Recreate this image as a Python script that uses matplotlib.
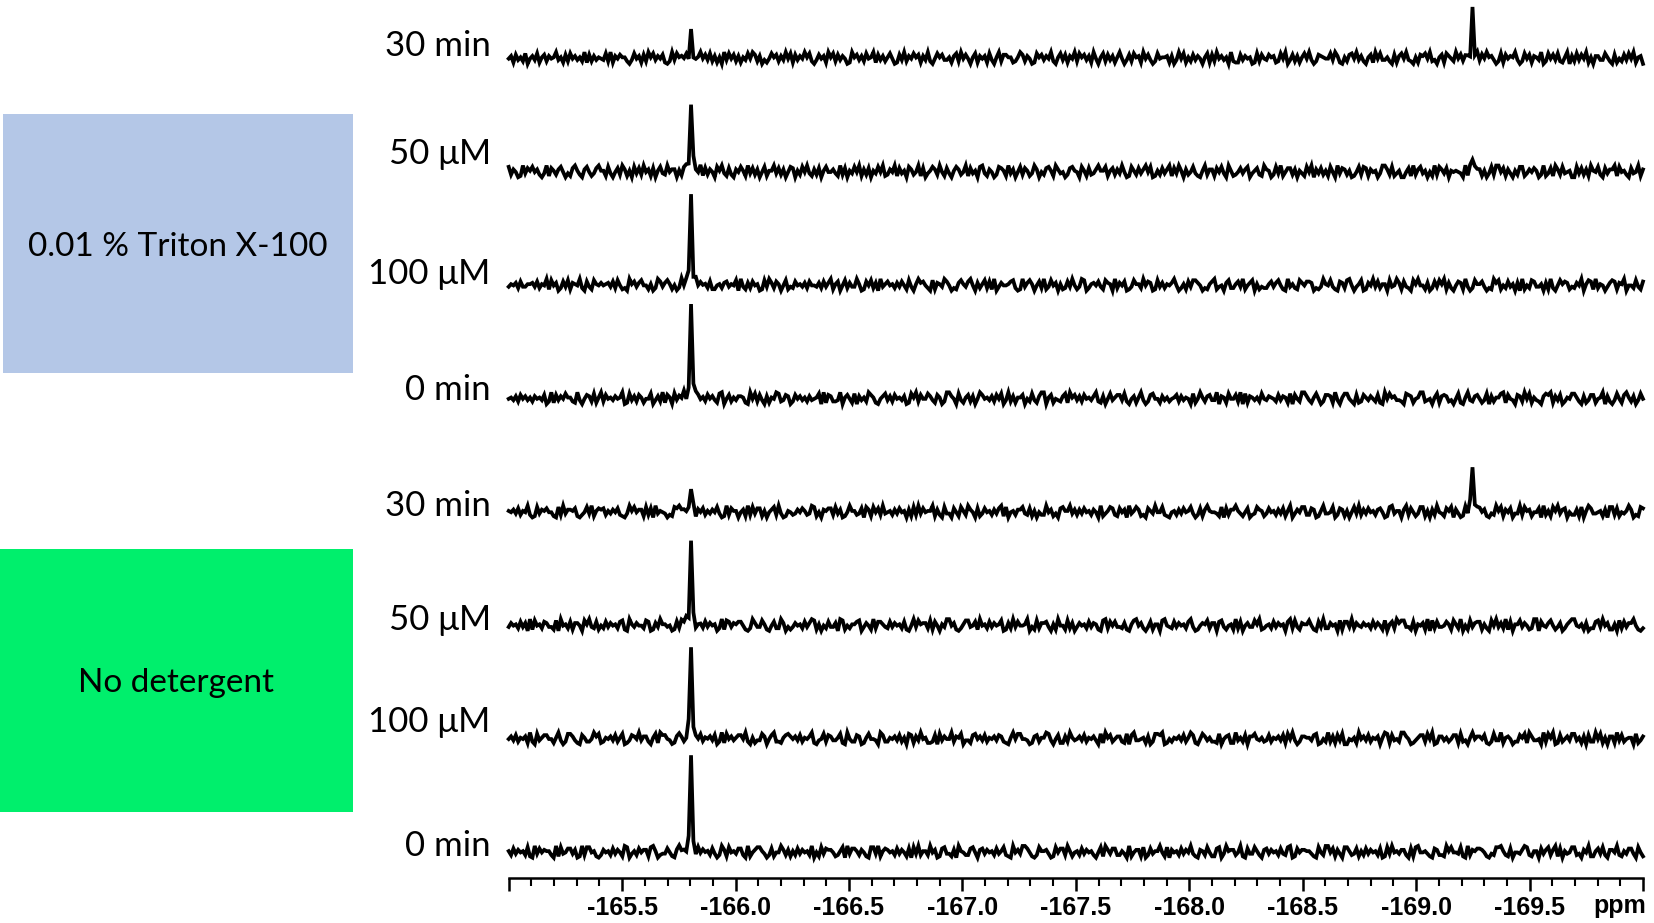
import numpy as np
import matplotlib
matplotlib.use("Agg")
import matplotlib.pyplot as plt
from matplotlib.patches import Rectangle
from matplotlib.ticker import FixedLocator, MultipleLocator

# ------------------------------------------------------------------ data
ppm_left, ppm_right = -165.0, -170.0
trace_labels = ["30 min", "50 \u03bcM", "100 \u03bcM", "0 min",
                "30 min", "50 \u03bcM", "100 \u03bcM", "0 min"]
peak_ppm = [-165.8, -169.25]
# peak heights (display units) of the two signals, one row per trace (top to bottom)
peak_heights = [
    [27, 53],
    [70, 15],
    [90, 0],
    [100, 0],
    [27, 45],
    [85, 0],
    [97, 0],
    [92, 0],
]
group_labels = ["0.01 % Triton X-100", "No detergent"]
group_colors = ["#B4C7E7", "#00EF6C"]
major_ticks = [-165.0, -165.5, -166.0, -166.5, -167.0, -167.5,
               -168.0, -168.5, -169.0, -169.5, -170.0]
tick_labels = ["", "-165.5", "-166.0", "-166.5", "-167.0", "-167.5",
               "-168.0", "-168.5", "-169.0", "-169.5", ""]
unit_label = "ppm"

# baseline noise of each trace, hand-estimated levels 0..9 (4.5 = baseline)
noise_1 = """
46173528 04638157 26459351 72846352 91726354
38291647 55203846 17295836 47102938 56471623
59473826 15093847 26153849 72603148 57263948
17364958 20374619 58273640 19573628 45917362
58401739 26485716 39204857 33516829 47405816
46183059 27755125 97264018 57364920 58371649
28573619 40582736 15940372 85619473 02845561
60394815 27364058 17294635 09211736 45018274
37561284 90372615 84930276 54483961 05278493
62057194 83352071 68493205 17684923 05718642
94726503 18274956 30281746 59302847 16539028
47382159 06283749 15066338 52071427 38491560
"""
noise_2 = """
82640193 75846203 91752684 03179520 68413795
51830472 96150837 29461705 83294660 51783294
39172640 85931720 64851937 26048155 93726048
70528493 16270584 46319270 53849162 70538491
26491735 08624917 03586294 17305862 49173508
93164028 75193604 82751396 04278519 63402785
40851723 69558157 26394018 52736948 01527369
17395062 48310592 66174830 95124736 80357219
65028391 47726053 18490637 25184093 76250148
28716450 39962813 50047192 68350419 28637054
54309182 76615038 29947163 05288136 47502913
71962834 50083726 19548207 36691845 20734916
"""
noise_3 = """
35462733 55637254 91846027 38165492 07318546
45637284 12095736 84415029 73685140 29376518
36452711 45267354 80931627 45018396 27504813
27453627 44362736 91570482 63395017 48260935
74526374 18305967 42081653 97402168 53794062
58271903 64457820 19368504 72913846 05127394
13980256 47318650 92647013 85529476 01836254
69402517 38864021 57913406 82257391 46805132
25736841 09352186 47760213 95483107 62894035
80164937 25508349 61732085 94416027 38591620
47619302 85573021 96814273 50609142 87335061
92048576 13264905 87192540 36871659 04428317
"""
noise_4 = """
45362746 35264537 02917364 85521930 47628159
27453645 90183627 51448036 29175083 64912057
63527463 18904725 36651094 82730615 49823760
27463526 34580917 62239057 41806352 97510468
36274536 01859274 48631750 29964083 15726049
74536274 80392615 57042831 69905714 32681957
36274536 92160483 57738204 61593027 84416352
45726354 08149526 73390651 84472908 16535284
36542736 51807429 96315840 27761930 58842071
27536427 10948563 32087614 59923405 81676230
48105932 67413806 25589174 30762948 15320687
91637025 48852061 37714590 62038417 95260384
"""
noise_5 = """
54637254 92018365 74410829 36657102 48391576
72536472 10395846 61827093 54302187 96645180
64725364 83019275 50461928 37715046 82930154
23647523 98140657 72836014 95523708 61847293
45263745 06182937 45591620 83307418 52964071
37452637 91804526 68327150 42294613 07855936
26374526 40913587 21746093 58612075 39448210
45263745 83027169 54431807 26695314 70238651
37452637 15903648 82276015 93348027 61504839
26374526 74018935 50692741 38815062 94317580
63018294 57746103 29581647 03392856 14470925
18593670 42261805 97334516 08827143 59602187
"""
noise_6 = """
36452736 09184527 63318094 52716640 85932714
27364527 81095364 42870163 95534017 28691450
45273645 02918736 57741029 63385104 72296031
36452736 98150427 33609814 25578036 41927753
27364527 10493856 62817405 39946102 58834719
45273645 80162937 44590318 26673051 94418260
36452736 51089274 73326105 89462037 15508943
27364527 93014658 26607831 45192704 63385912
45273645 07928316 55841073 92264508 17739264
36452736 41805729 68833170 54619082 73347518
52904183 67715208 49362917 05583641 29907436
84136025 79943516 02278394 61150827 36694102
"""
noise_7 = """
46372546 19208357 74415930 28863107 52249681
25463725 80137649 36620581 97743016 85129034
37254637 02918463 57749205 13386047 92215786
46372546 91034827 63358109 42276015 84430972
25463725 08716394 51127083 64492658 03317846
37254637 62105948 84430167 25598304 71162953
46372546 30819572 46621807 93345160 28879014
25463725 97104863 52218046 71193527 06684352
37254637 18493026 65537801 42926173 80043519
46372546 05981734 29964013 57728490 16635247
71823059 46647102 83391564 02275819 63340928
59017246 38835160 72294815 06619372 45508136
"""
noise_8 = """
52736452 81093746 55209183 47736019 28845102
64527364 19803527 46618950 23374106 95527830
73645273 02961845 37720914 68853027 14496261
52736452 90418376 64125809 37752641 08839157
64527364 17083925 52946017 83316095 42278406
73645273 58210946 39974102 85563018 47729514
52736452 04819637 72253091 46618027 35594180
64527364 93106528 41178039 56624910 73385206
73645273 28901746 65531084 29947163 08852371
52736452 70183945 36620718 94453107 62219584
43810926 57764103 28895217 04436982 15507368
26917053 48823064 91157382 06649215 37730841
"""
noise_levels = [noise_1, noise_2, noise_3, noise_4,
                noise_5, noise_6, noise_7, noise_8]

# ------------------------------------------------------------------ layout
W, H = 1654, 923
fig = plt.figure(figsize=(W / 100, H / 100), dpi=100)
fig.patch.set_facecolor("white")

ax_left_px, ax_right_px = 508.7, 1643.0
ax_bottom_px = 878.0
ax = fig.add_axes([ax_left_px / W, 1 - ax_bottom_px / H,
                   (ax_right_px - ax_left_px) / W, ax_bottom_px / H])
ax.set_xlim(ppm_left, ppm_right)
ax.set_ylim(0, ax_bottom_px)

first_base_px, spacing_px = 58.0, 113.4
noise_scale = 1.3
peak_width = 0.0042

for i, (lev, heights) in enumerate(zip(noise_levels, peak_heights)):
    vals = np.array([int(c) for c in lev if c.isdigit()], dtype=float)
    x = np.linspace(ppm_left, ppm_right, len(vals))
    base = ax_bottom_px - (first_base_px + spacing_px * i)
    y = base + (vals - 4.5) * noise_scale
    for p, h in zip(peak_ppm, heights):
        if h <= 0:
            continue
        k = int(np.argmin(np.abs(x - p)))
        y = y + h / (1 + ((x - x[k]) / peak_width) ** 2)
    ax.plot(x, y, color="black", lw=2.7, clip_on=False, solid_joinstyle="miter")

for s in ("top", "left", "right"):
    ax.spines[s].set_visible(False)
ax.spines["bottom"].set_linewidth(1.8)
ax.set_yticks([])
ax.xaxis.set_major_locator(FixedLocator(major_ticks))
ax.set_xticklabels(tick_labels)
ax.xaxis.set_minor_locator(MultipleLocator(0.1))
ax.tick_params(axis="x", which="major", direction="out", length=9, width=1.8,
               pad=4, labelsize=18)
ax.tick_params(axis="x", which="minor", direction="out", length=5.5, width=1.5)
for t in ax.get_xticklabels():
    t.set_fontfamily("Liberation Sans")
    t.set_fontweight("bold")

fig.text(1620 / W, 1 - 906 / H, unit_label, ha="center", va="center",
         fontsize=18, fontweight="bold", family="Liberation Sans")

# trace labels
label_baselines_px = [56.5, 163.5, 283.5, 400.5, 516.5, 629.5, 732.5, 856.5]
for lab, yb in zip(trace_labels, label_baselines_px):
    fig.text(490.7 / W, 1 - yb / H, lab, ha="right", va="baseline",
             fontsize=25, family=["Lato", "Liberation Serif"])

# group boxes
boxes_px = [(3, 114, 352.7, 373), (0, 549, 352.7, 812)]
box_text_baseline = [256, 692]
for (x0, y0, x1, y1), col, lab, yb in zip(boxes_px, group_colors, group_labels,
                                           box_text_baseline):
    fig.add_artist(Rectangle((x0 / W, 1 - y1 / H), (x1 - x0) / W, (y1 - y0) / H,
                             transform=fig.transFigure, facecolor=col,
                             edgecolor="none"))
    fig.text((x0 + x1) / 2 / W, 1 - yb / H, lab, ha="center", va="baseline",
             fontsize=24, family=["Lato", "DejaVu Sans"])

fig.savefig("out.png", dpi=100, facecolor="white")
